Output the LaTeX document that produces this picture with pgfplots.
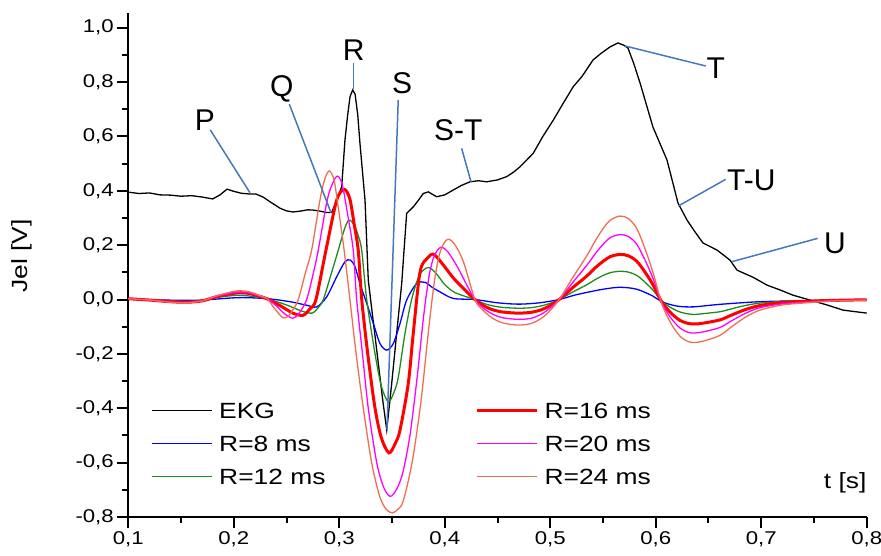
\documentclass[border=0pt]{standalone}
\usepackage{fontspec}
\setmainfont{Liberation Sans}[FakeStretch=1.2]
\newfontfamily\annfont{Liberation Sans}
\usepackage{pgfplots}
\pgfplotsset{compat=1.18}

\definecolor{cblue}{RGB}{0,0,255}
\definecolor{cgreen}{RGB}{30,140,30}
\definecolor{cred}{RGB}{255,0,0}
\definecolor{cmag}{RGB}{255,0,255}
\definecolor{csalmon}{RGB}{240,110,80}
\definecolor{annblue}{RGB}{70,120,190}

\begin{document}
\begin{tikzpicture}
\useasboundingbox (0,0) rectangle (881pt,555pt);
\begin{axis}[
  at={(128.3pt,38pt)}, anchor=south west,
  scale only axis, width=738.4pt, height=504pt,
  xmin=0.1, xmax=0.8, ymin=-0.8, ymax=1.054,
  clip=false,
  axis lines=left,
  axis line style={-, line width=2pt},
  xtick={0.1,0.2,0.3,0.4,0.5,0.6,0.7,0.8},
  ytick={-0.8,-0.6,-0.4,-0.2,0,0.2,0.4,0.6,0.8,1.0},
  minor x tick num=1, minor y tick num=1,
  tick align=outside,
  major tick length=11pt, minor tick length=6pt,
  every tick/.style={black, line width=2pt},
  tick label style={font=\fontsize{18.5}{20}\selectfont},
  /pgf/number format/assume math mode=true,
  /pgf/number format/use comma,
  /pgf/number format/fixed,
  /pgf/number format/fixed zerofill,
  /pgf/number format/precision=1,
  xlabel={t [s]},
  xlabel style={at={(rel axis cs:1,0.0674)}, anchor=east, inner sep=0pt,
    font=\fontsize{22}{24}\selectfont},
  ylabel={Jel [V]},
  ylabel style={at={(rel axis cs:-0.144,0.518)}, anchor=center,
    font=\fontsize{22}{24}\selectfont},
  legend columns=2,
  legend cell align=left,
  legend image code/.code={\draw[#1] (0pt,0pt) -- (60pt,0pt);},
  legend style={draw=none, fill=none, inner sep=0pt, outer sep=0pt,
    at={(rel axis cs:0.0317,0.2266)}, anchor=north west,
    row sep=17.2pt, font=\fontsize{22}{24}\selectfont,
    nodes={inner sep=0pt, text height=15.8pt, text depth=0pt},
    /tikz/column 1/.style={column sep=6pt},
    /tikz/column 2/.style={column sep=150pt},
    /tikz/column 3/.style={column sep=6pt}},
]

% EKG
\addplot[black, line width=1.3pt, forget plot] coordinates {
  (0.100,0.395) (0.110,0.390) (0.120,0.392) (0.130,0.385) (0.140,0.384)
  (0.150,0.380) (0.160,0.382) (0.170,0.377) (0.180,0.370) (0.187,0.385)
  (0.1936,0.406) (0.200,0.398) (0.207,0.391) (0.2154,0.388) (0.221,0.388)
  (0.2277,0.377) (0.235,0.358) (0.2438,0.336) (0.250,0.326) (0.2561,0.322)
  (0.2627,0.325) (0.270,0.330) (0.2751,0.329) (0.282,0.325) (0.288,0.320)
  (0.2928,0.320) (0.298,0.370) (0.3023,0.415) (0.3054,0.587) (0.308,0.680)
  (0.3102,0.746) (0.3127,0.771) (0.315,0.755) (0.3175,0.680) (0.3196,0.575)
  (0.3244,0.366) (0.3275,0.071) (0.3355,-0.186) (0.3412,-0.370) (0.345,-0.480)
  (0.3497,-0.309) (0.3544,-0.125) (0.3592,0.059) (0.3614,0.182) (0.3639,0.317)
  (0.3702,0.341) (0.375,0.365) (0.3796,0.390) (0.3844,0.396) (0.3923,0.378)
  (0.400,0.385) (0.4081,0.403) (0.416,0.420) (0.4239,0.433) (0.432,0.437)
  (0.4397,0.433) (0.450,0.440) (0.4587,0.452) (0.465,0.468) (0.4713,0.488)
  (0.4839,0.538) (0.493,0.600) (0.5029,0.660) (0.512,0.720) (0.5218,0.783)
  (0.530,0.820) (0.5405,0.881) (0.548,0.905) (0.5566,0.929) (0.5642,0.944)
  (0.570,0.935) (0.5737,0.925) (0.579,0.870) (0.5851,0.797) (0.5974,0.634)
  (0.6107,0.513) (0.6211,0.355) (0.6297,0.292) (0.637,0.250) (0.6448,0.208)
  (0.6581,0.182) (0.6704,0.145) (0.6771,0.108) (0.6922,0.082) (0.7055,0.053)
  (0.718,0.035) (0.7301,0.016) (0.7463,-0.002) (0.7624,-0.020) (0.7776,-0.039)
  (0.800,-0.050)
};

% R = 8 ms
\addplot[cblue, line width=1.3pt, smooth, forget plot] coordinates {
  (0.100,0.001) (0.150,-0.003) (0.170,-0.002) (0.205,0.007) (0.232,0.003)
  (0.2533,-0.008) (0.2691,-0.021) (0.2786,-0.027) (0.2881,0.010) (0.2976,0.084)
  (0.3054,0.139) (0.3105,0.145) (0.315,0.120) (0.3196,0.059) (0.326,-0.014)
  (0.3323,-0.088) (0.3386,-0.162) (0.345,-0.186) (0.3512,-0.162) (0.3576,-0.088)
  (0.3639,-0.002) (0.3734,0.059) (0.3813,0.063) (0.388,0.045) (0.3955,0.028)
  (0.4081,0.004) (0.4286,0.000) (0.450,-0.012) (0.470,-0.017) (0.490,-0.012)
  (0.5085,0.000) (0.522,0.015) (0.5345,0.026) (0.5503,0.038) (0.566,0.045)
  (0.5819,0.038) (0.5977,0.012) (0.6056,-0.008) (0.620,-0.024) (0.6356,-0.027)
  (0.660,-0.018) (0.6988,-0.008) (0.7462,-0.004) (0.800,0.000)
};

% R = 12 ms
\addplot[cgreen, line width=1.3pt, smooth, forget plot] coordinates {
  (0.100,0.002) (0.140,-0.005) (0.155,-0.007) (0.170,-0.003) (0.185,0.008)
  (0.205,0.016) (0.220,0.010) (0.232,0.002) (0.250,-0.020) (0.264,-0.042)
  (0.2741,-0.050) (0.280,-0.030) (0.2849,0.000) (0.292,0.090) (0.2991,0.182)
  (0.305,0.260) (0.3092,0.292) (0.314,0.275) (0.318,0.235) (0.3213,0.180)
  (0.326,0.000) (0.3339,-0.200) (0.340,-0.320) (0.3465,-0.376) (0.352,-0.340)
  (0.356,-0.285) (0.3623,-0.125) (0.3686,0.000) (0.376,0.090) (0.3844,0.118)
  (0.392,0.095) (0.400,0.055) (0.410,0.025) (0.4286,0.000) (0.436,-0.013)
  (0.445,-0.023) (0.455,-0.029) (0.4697,-0.032) (0.482,-0.030) (0.492,-0.023)
  (0.500,-0.014) (0.5085,0.000) (0.515,0.014) (0.522,0.029) (0.5345,0.054)
  (0.543,0.074) (0.5503,0.089) (0.557,0.099) (0.566,0.104) (0.574,0.101)
  (0.5819,0.089) (0.590,0.063) (0.5977,0.033) (0.6056,-0.005) (0.614,-0.029)
  (0.623,-0.046) (0.631,-0.053) (0.637,-0.055) (0.645,-0.052) (0.6608,-0.045)
  (0.672,-0.034) (0.685,-0.022) (0.6988,-0.013) (0.720,-0.007) (0.7462,-0.004)
  (0.770,-0.002) (0.800,-0.001)
};

% R = 16 ms
\addplot[cred, line width=3pt, smooth, forget plot] coordinates {
  (0.100,0.003) (0.120,-0.002) (0.140,-0.008) (0.155,-0.010) (0.170,-0.005)
  (0.185,0.012) (0.200,0.023) (0.207,0.025) (0.215,0.022) (0.225,0.011)
  (0.232,0.002) (0.245,-0.025) (0.256,-0.050) (0.2656,-0.058) (0.272,-0.035)
  (0.2779,0.000) (0.2874,0.182) (0.2976,0.366) (0.3048,0.405) (0.310,0.370)
  (0.314,0.280) (0.318,0.180) (0.3213,0.000) (0.327,-0.200) (0.3339,-0.400)
  (0.340,-0.510) (0.3471,-0.564) (0.353,-0.530) (0.3576,-0.480) (0.3654,-0.309)
  (0.370,-0.130) (0.3765,0.100) (0.383,0.150) (0.3891,0.167) (0.396,0.140)
  (0.408,0.080) (0.4176,0.041) (0.4286,0.000) (0.436,-0.021) (0.445,-0.037)
  (0.455,-0.046) (0.4697,-0.050) (0.482,-0.047) (0.492,-0.037) (0.500,-0.022)
  (0.5085,0.000) (0.515,0.022) (0.522,0.046) (0.5345,0.086) (0.543,0.118)
  (0.5503,0.141) (0.557,0.158) (0.566,0.166) (0.574,0.161) (0.5819,0.141)
  (0.590,0.100) (0.5977,0.052) (0.6056,-0.008) (0.614,-0.048) (0.623,-0.077)
  (0.631,-0.088) (0.637,-0.090) (0.645,-0.087) (0.6608,-0.075) (0.672,-0.057)
  (0.685,-0.037) (0.6988,-0.022) (0.720,-0.011) (0.7462,-0.006) (0.770,-0.003)
  (0.800,-0.001)
};

% R = 20 ms
\addplot[cmag, line width=1.3pt, smooth, forget plot] coordinates {
  (0.100,0.003) (0.120,-0.002) (0.140,-0.009) (0.155,-0.011) (0.170,-0.005)
  (0.185,0.013) (0.200,0.025) (0.207,0.027) (0.215,0.024) (0.225,0.012)
  (0.232,0.002) (0.240,-0.022) (0.248,-0.052) (0.2561,-0.069) (0.262,-0.050)
  (0.2691,0.000) (0.275,0.090) (0.2801,0.182) (0.2886,0.366) (0.294,0.430)
  (0.2985,0.454) (0.303,0.420) (0.3085,0.300) (0.3133,0.180) (0.3165,0.000)
  (0.322,-0.200) (0.3275,-0.400) (0.3355,-0.600) (0.342,-0.690) (0.3481,-0.724)
  (0.354,-0.700) (0.360,-0.640) (0.367,-0.500) (0.374,-0.280) (0.380,-0.060)
  (0.3853,0.090) (0.390,0.160) (0.3961,0.192) (0.403,0.175) (0.412,0.120)
  (0.420,0.060) (0.4286,0.000) (0.436,-0.030) (0.445,-0.053) (0.455,-0.067)
  (0.4697,-0.073) (0.482,-0.069) (0.492,-0.053) (0.500,-0.031) (0.5085,0.000)
  (0.515,0.031) (0.522,0.066) (0.5345,0.125) (0.543,0.170) (0.5503,0.204)
  (0.557,0.228) (0.566,0.239) (0.574,0.232) (0.5819,0.204) (0.590,0.144)
  (0.5977,0.075) (0.6056,-0.011) (0.614,-0.066) (0.623,-0.105) (0.631,-0.121)
  (0.637,-0.123) (0.645,-0.119) (0.6608,-0.103) (0.672,-0.078) (0.685,-0.051)
  (0.6988,-0.030) (0.720,-0.016) (0.7462,-0.009) (0.770,-0.004) (0.800,-0.002)
};

% R = 24 ms
\addplot[csalmon, line width=1.3pt, smooth, forget plot] coordinates {
  (0.100,0.003) (0.120,-0.002) (0.140,-0.010) (0.155,-0.012) (0.170,-0.005)
  (0.185,0.015) (0.200,0.030) (0.207,0.032) (0.215,0.028) (0.225,0.014)
  (0.232,0.002) (0.238,-0.030) (0.2466,-0.067) (0.252,-0.060) (0.2565,-0.035)
  (0.2612,0.000) (0.268,0.100) (0.2738,0.182) (0.2817,0.366) (0.286,0.440)
  (0.2905,0.473) (0.295,0.440) (0.299,0.340) (0.3046,0.182) (0.3101,0.000)
  (0.316,-0.200) (0.3228,-0.400) (0.3307,-0.600) (0.338,-0.720) (0.344,-0.770)
  (0.3503,-0.785) (0.356,-0.770) (0.3607,-0.740) (0.369,-0.600) (0.3773,-0.380)
  (0.385,-0.100) (0.3907,0.080) (0.396,0.180) (0.4024,0.221) (0.409,0.205)
  (0.4176,0.140) (0.4286,0.000) (0.436,-0.038) (0.445,-0.068) (0.455,-0.086)
  (0.4697,-0.094) (0.482,-0.088) (0.492,-0.068) (0.500,-0.040) (0.5085,0.000)
  (0.515,0.040) (0.522,0.085) (0.5345,0.160) (0.543,0.218) (0.5503,0.262)
  (0.557,0.292) (0.566,0.307) (0.574,0.298) (0.5819,0.262) (0.590,0.185)
  (0.5977,0.096) (0.6056,-0.014) (0.614,-0.085) (0.623,-0.135) (0.631,-0.155)
  (0.637,-0.158) (0.645,-0.153) (0.6608,-0.132) (0.672,-0.100) (0.685,-0.065)
  (0.6988,-0.039) (0.720,-0.020) (0.7462,-0.011) (0.770,-0.005) (0.800,-0.002)
};

% legend, row by row
\addlegendimage{black, line width=1.5pt}
\addlegendentry{EKG}
\addlegendimage{cred, line width=3pt}
\addlegendentry{R=16 ms}
\addlegendimage{cblue, line width=1.5pt}
\addlegendentry{R=8 ms}
\addlegendimage{cmag, line width=1.5pt}
\addlegendentry{R=20 ms}
\addlegendimage{cgreen, line width=1.5pt}
\addlegendentry{R=12 ms}
\addlegendimage{csalmon, line width=1.5pt}
\addlegendentry{R=24 ms}

% annotations
\begin{scope}[annblue, line width=1.5pt]
  \draw (axis cs:0.1777,0.624) -- (axis cs:0.2153,0.393);
  \draw (axis cs:0.2526,0.719) -- (axis cs:0.2922,0.319);
  \draw (axis cs:0.3133,0.869) -- (axis cs:0.3133,0.773);
  \draw (axis cs:0.3559,0.734) -- (axis cs:0.3452,-0.478);
  \draw (axis cs:0.4160,0.556) -- (axis cs:0.4249,0.433);
  \draw (axis cs:0.5707,0.933) -- (axis cs:0.6474,0.859);
  \draw (axis cs:0.6214,0.344) -- (axis cs:0.6663,0.442);
  \draw (axis cs:0.6720,0.139) -- (axis cs:0.7535,0.225);
\end{scope}
\begin{scope}[every node/.style={anchor=base, inner sep=0pt,
    font=\annfont\fontsize{30}{32}\selectfont}]
  \node at (axis cs:0.1727,0.6235) {P};
  \node at (axis cs:0.2454,0.746) {Q};
  \node at (axis cs:0.3138,0.881) {R};
  \node at (axis cs:0.3596,0.7586) {S};
  \node at (axis cs:0.4128,0.5867) {S-T};
  \node at (axis cs:0.6569,0.8138) {T};
  \node at (axis cs:0.6906,0.4027) {T-U};
  \node at (axis cs:0.7699,0.1697) {U};
\end{scope}
\end{axis}
\end{tikzpicture}
\end{document}
